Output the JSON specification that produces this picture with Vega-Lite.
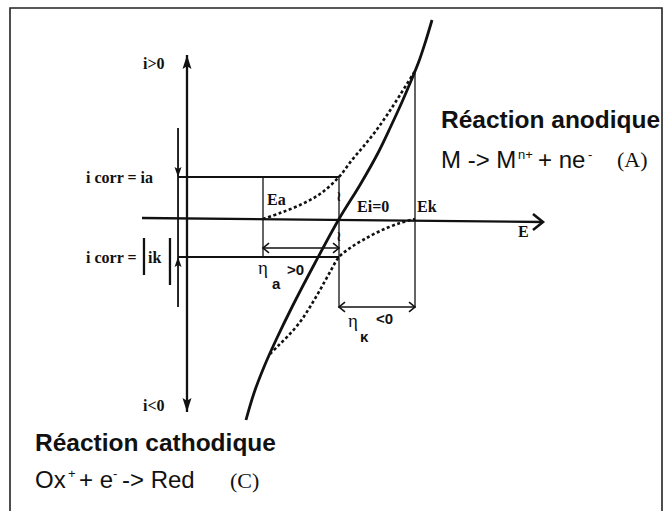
{
  "$schema": "https://vega.github.io/schema/vega-lite/v6.json",
  "autosize": {"type": "none"},
  "padding": {"left": 10, "top": 8, "right": 2, "bottom": 0},
  "width": 652,
  "height": 505,
  "background": "#ffffff",
  "config": {"view": {"stroke": "#222222", "strokeWidth": 1.6}},
  "datasets": {
    "segments": [
      {"seg": "E axis", "role": "axis", "E": -2.592, "I": 0.025, "E2": 2.684, "I2": -0.075},
      {"seg": "i axis", "role": "axis", "E": -2.0, "I": 4.1, "E2": -2.0, "I2": -4.825},
      {"seg": "i corr guide", "role": "mid", "E": -2.118, "I": 2.275, "E2": -2.118, "I2": -2.2},
      {"seg": "abs bar left", "role": "axis", "E": -2.566, "I": -0.475, "E2": -2.566, "I2": -1.4},
      {"seg": "abs bar right", "role": "axis", "E": -2.224, "I": -0.475, "E2": -2.224, "I2": -1.65},
      {"seg": "ia level", "role": "mid", "E": -2.118, "I": 1.05, "E2": 0, "I2": 1.05},
      {"seg": "ik level", "role": "mid", "E": -2.118, "I": -0.95, "E2": 0, "I2": -0.95},
      {"seg": "Ea", "role": "thin", "E": -1, "I": 1.05, "E2": -1, "I2": -0.95},
      {"seg": "Ecorr", "role": "thin", "E": 0, "I": 1.05, "E2": 0, "I2": -2.225},
      {"seg": "Ek", "role": "thin", "E": 1, "I": 3.7, "E2": 1, "I2": -2.225},
      {"seg": "eta a", "role": "thin", "E": -1, "I": -0.725, "E2": 0, "I2": -0.725},
      {"seg": "eta k", "role": "thin", "E": 0, "I": -2.2, "E2": 1, "I2": -2.2}
    ],
    "curves": [
      {"curve": "total", "E": 1.224, "I": 4.975},
      {"curve": "total", "E": 1.145, "I": 4.475},
      {"curve": "total", "E": 1.053, "I": 3.95},
      {"curve": "total", "E": 0.947, "I": 3.45},
      {"curve": "total", "E": 0.829, "I": 2.925},
      {"curve": "total", "E": 0.684, "I": 2.325},
      {"curve": "total", "E": 0.513, "I": 1.65},
      {"curve": "total", "E": 0.276, "I": 0.85},
      {"curve": "total", "E": 0.0, "I": 0.0},
      {"curve": "total", "E": -0.316, "I": -1.1},
      {"curve": "total", "E": -0.618, "I": -2.2},
      {"curve": "total", "E": -0.829, "I": -3.025},
      {"curve": "total", "E": -0.987, "I": -3.7},
      {"curve": "total", "E": -1.118, "I": -4.35},
      {"curve": "total", "E": -1.224, "I": -5.025},
      {"curve": "anodic", "E": -1.0, "I": 0.0},
      {"curve": "anodic", "E": -0.776, "I": 0.15},
      {"curve": "anodic", "E": -0.513, "I": 0.35},
      {"curve": "anodic", "E": -0.25, "I": 0.625},
      {"curve": "anodic", "E": 0.0, "I": 1.05},
      {"curve": "anodic", "E": 0.171, "I": 1.475},
      {"curve": "anodic", "E": 0.316, "I": 1.8},
      {"curve": "anodic", "E": 0.474, "I": 2.175},
      {"curve": "anodic", "E": 0.632, "I": 2.6},
      {"curve": "anodic", "E": 0.803, "I": 3.1},
      {"curve": "anodic", "E": 1.0, "I": 3.7},
      {"curve": "cathodic", "E": 1.0, "I": 0.0},
      {"curve": "cathodic", "E": 0.803, "I": -0.1},
      {"curve": "cathodic", "E": 0.539, "I": -0.3},
      {"curve": "cathodic", "E": 0.316, "I": -0.525},
      {"curve": "cathodic", "E": 0.145, "I": -0.725},
      {"curve": "cathodic", "E": 0.0, "I": -0.95},
      {"curve": "cathodic", "E": -0.118, "I": -1.325},
      {"curve": "cathodic", "E": -0.25, "I": -1.775},
      {"curve": "cathodic", "E": -0.382, "I": -2.2},
      {"curve": "cathodic", "E": -0.513, "I": -2.575},
      {"curve": "cathodic", "E": -0.671, "I": -2.925},
      {"curve": "cathodic", "E": -0.803, "I": -3.175},
      {"curve": "cathodic", "E": -0.908, "I": -3.375}
    ],
    "heads": [
      {"kind": "big", "dir": "up", "E": -2.0, "I": 4.1},
      {"kind": "big", "dir": "down", "E": -2.0, "I": -4.825},
      {"kind": "small", "dir": "down", "E": -2.118, "I": 1.05},
      {"kind": "small", "dir": "up", "E": -2.118, "I": -0.95},
      {"kind": "open", "dir": "right", "E": 2.684, "I": -0.075},
      {"kind": "openSmall", "dir": "left", "E": -1.0, "I": -0.725},
      {"kind": "openSmall", "dir": "right", "E": 0.0, "I": -0.725},
      {"kind": "openSmall", "dir": "left", "E": 0.0, "I": -2.2},
      {"kind": "openSmall", "dir": "right", "E": 1.0, "I": -2.2}
    ],
    "labels": [
      {"role": "title", "text": "Réaction anodique", "E": 1.342, "I": 2.275},
      {"role": "title", "text": "Réaction cathodique", "E": -4.0, "I": -5.8},
      {"role": "formula", "text": "M -> M", "E": 1.342, "I": 1.275},
      {"role": "formula", "text": "+ ne", "E": 2.618, "I": 1.275},
      {"role": "formula", "text": "Ox", "E": -4.0, "I": -6.725},
      {"role": "formula", "text": "+ e", "E": -3.421, "I": -6.725},
      {"role": "formula", "text": "-> Red", "E": -2.855, "I": -6.725},
      {"role": "sup", "text": "n+", "E": 2.355, "I": 1.5},
      {"role": "sup", "text": "-", "E": 3.276, "I": 1.5},
      {"role": "sup", "text": "+", "E": -3.566, "I": -6.475},
      {"role": "sup", "text": "-", "E": -2.974, "I": -6.475},
      {"role": "paren", "text": "(A)", "E": 3.658, "I": 1.3},
      {"role": "paren", "text": "(C)", "E": -1.434, "I": -6.725},
      {"role": "lbl", "text": "i corr =  ia", "E": -3.329, "I": 0.9},
      {"role": "lbl", "text": "i corr =", "E": -3.329, "I": -1.1},
      {"role": "lbl", "text": "ik", "E": -2.513, "I": -1.1},
      {"role": "lbl", "text": "Ea", "E": -0.947, "I": 0.35},
      {"role": "lbl", "text": "Ei=0", "E": 0.237, "I": 0.175},
      {"role": "lbl", "text": "Ek", "E": 1.026, "I": 0.175},
      {"role": "lbl", "text": "E", "E": 2.355, "I": -0.45},
      {"role": "lbl", "text": "i>0", "E": -2.579, "I": 3.75},
      {"role": "lbl", "text": "i<0", "E": -2.579, "I": -4.8},
      {"role": "eta", "text": "η", "E": -1.066, "I": -1.375},
      {"role": "eta", "text": "η", "E": 0.118, "I": -2.7},
      {"role": "sub", "text": "a", "E": -0.882, "I": -1.75},
      {"role": "sub", "text": "κ", "E": 0.276, "I": -3.075},
      {"role": "sub", "text": ">0", "E": -0.684, "I": -1.4},
      {"role": "sub", "text": "<0", "E": 0.487, "I": -2.625},
      {"role": "squiggle", "text": "≀", "E": 0.0, "I": 0.55},
      {"role": "squiggle", "text": "≀", "E": 0.0, "I": -0.45}
    ]
  },
  "encoding": {
    "x": {"field": "E", "type": "quantitative", "axis": null, "scale": {"domain": [-4.3289, 4.25], "nice": false, "zero": false}},
    "y": {"field": "I", "type": "quantitative", "axis": null, "scale": {"domain": [-7.35, 5.275], "nice": false, "zero": false}}
  },
  "layer": [
    {
      "data": {"name": "segments"},
      "transform": [{"filter": "datum.role === 'thin'"}],
      "mark": {"type": "rule", "color": "#111111", "strokeWidth": 1.3},
      "encoding": {"x2": {"field": "E2"}, "y2": {"field": "I2"}}
    },
    {
      "data": {"name": "segments"},
      "transform": [{"filter": "datum.role === 'mid'"}],
      "mark": {"type": "rule", "color": "#111111", "strokeWidth": 1.8},
      "encoding": {"x2": {"field": "E2"}, "y2": {"field": "I2"}}
    },
    {
      "data": {"name": "segments"},
      "transform": [{"filter": "datum.role === 'axis'"}],
      "mark": {"type": "rule", "color": "#111111", "strokeWidth": 2.3},
      "encoding": {"x2": {"field": "E2"}, "y2": {"field": "I2"}}
    },
    {
      "data": {"name": "curves"},
      "transform": [{"filter": "datum.curve !== 'total'"}],
      "mark": {"type": "line", "color": "#111111", "strokeWidth": 2.6, "strokeDash": [3, 2.5], "interpolate": "catmull-rom"},
      "encoding": {"detail": {"field": "curve"}, "order": {"field": "E", "type": "quantitative"}}
    },
    {
      "data": {"name": "curves"},
      "transform": [{"filter": "datum.curve === 'total'"}],
      "mark": {"type": "line", "color": "#111111", "strokeWidth": 2.8, "interpolate": "catmull-rom"},
      "encoding": {"order": {"field": "E", "type": "quantitative"}}
    },
    {
      "data": {"name": "heads"},
      "transform": [{"filter": "datum.kind === 'big' && datum.dir === 'up'"}],
      "mark": {"type": "point", "shape": "M0,0L-0.32,1L0,0.8L0.32,1Z", "filled": true, "color": "#111111", "size": 784, "opacity": 1}
    },
    {
      "data": {"name": "heads"},
      "transform": [{"filter": "datum.kind === 'big' && datum.dir === 'down'"}],
      "mark": {"type": "point", "shape": "M0,0L-0.32,-1L0,-0.8L0.32,-1Z", "filled": true, "color": "#111111", "size": 784, "opacity": 1}
    },
    {
      "data": {"name": "heads"},
      "transform": [{"filter": "datum.kind === 'small' && datum.dir === 'up'"}],
      "mark": {"type": "point", "shape": "M0,0L-0.35,1L0,0.8L0.35,1Z", "filled": true, "color": "#111111", "size": 400, "opacity": 1}
    },
    {
      "data": {"name": "heads"},
      "transform": [{"filter": "datum.kind === 'small' && datum.dir === 'down'"}],
      "mark": {"type": "point", "shape": "M0,0L-0.35,-1L0,-0.8L0.35,-1Z", "filled": true, "color": "#111111", "size": 400, "opacity": 1}
    },
    {
      "data": {"name": "heads"},
      "transform": [{"filter": "datum.kind === 'open'"}],
      "mark": {"type": "point", "shape": "M-1,-0.8L0,0L-1,0.8", "filled": false, "color": "#111111", "strokeWidth": 2.6, "size": 400, "opacity": 1}
    },
    {
      "data": {"name": "heads"},
      "transform": [{"filter": "datum.kind === 'openSmall' && datum.dir === 'right'"}],
      "mark": {"type": "point", "shape": "M-1,-0.8L0,0L-1,0.8", "filled": false, "color": "#111111", "strokeWidth": 1.6, "size": 144, "opacity": 1}
    },
    {
      "data": {"name": "heads"},
      "transform": [{"filter": "datum.kind === 'openSmall' && datum.dir === 'left'"}],
      "mark": {"type": "point", "shape": "M1,-0.8L0,0L1,0.8", "filled": false, "color": "#111111", "strokeWidth": 1.6, "size": 144, "opacity": 1}
    },
    {
      "data": {"name": "labels"},
      "transform": [{"filter": "datum.role === 'title'"}],
      "mark": {"type": "text", "font": "Liberation Sans", "fontWeight": "bold", "fontSize": 24.5, "align": "left", "baseline": "alphabetic", "color": "#111111"},
      "encoding": {"text": {"field": "text"}}
    },
    {
      "data": {"name": "labels"},
      "transform": [{"filter": "datum.role === 'formula'"}],
      "mark": {"type": "text", "font": "Liberation Sans", "fontSize": 24, "align": "left", "baseline": "alphabetic", "color": "#111111"},
      "encoding": {"text": {"field": "text"}}
    },
    {
      "data": {"name": "labels"},
      "transform": [{"filter": "datum.role === 'sup'"}],
      "mark": {"type": "text", "font": "Liberation Sans", "fontSize": 13, "align": "left", "baseline": "alphabetic", "color": "#111111"},
      "encoding": {"text": {"field": "text"}}
    },
    {
      "data": {"name": "labels"},
      "transform": [{"filter": "datum.role === 'paren'"}],
      "mark": {"type": "text", "font": "Liberation Serif", "fontSize": 22, "align": "left", "baseline": "alphabetic", "color": "#111111"},
      "encoding": {"text": {"field": "text"}}
    },
    {
      "data": {"name": "labels"},
      "transform": [{"filter": "datum.role === 'lbl'"}],
      "mark": {"type": "text", "font": "Liberation Serif", "fontWeight": "bold", "fontSize": 16, "align": "left", "baseline": "alphabetic", "color": "#111111"},
      "encoding": {"text": {"field": "text"}}
    },
    {
      "data": {"name": "labels"},
      "transform": [{"filter": "datum.role === 'eta'"}],
      "mark": {"type": "text", "font": "Liberation Serif", "fontSize": 19, "align": "left", "baseline": "alphabetic", "color": "#111111"},
      "encoding": {"text": {"field": "text"}}
    },
    {
      "data": {"name": "labels"},
      "transform": [{"filter": "datum.role === 'sub'"}],
      "mark": {"type": "text", "font": "Liberation Sans", "fontWeight": "bold", "fontSize": 15, "align": "left", "baseline": "alphabetic", "color": "#111111"},
      "encoding": {"text": {"field": "text"}}
    },
    {
      "data": {"name": "labels"},
      "transform": [{"filter": "datum.role === 'squiggle'"}],
      "mark": {"type": "text", "font": "DejaVu Sans", "fontSize": 14, "fontWeight": "bold", "align": "center", "baseline": "middle", "color": "#111111"},
      "encoding": {"text": {"field": "text"}}
    }
  ]
}
